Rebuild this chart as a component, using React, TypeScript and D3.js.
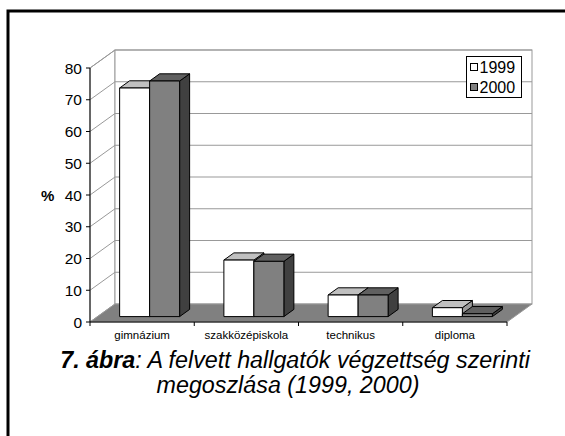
import React from 'react';
import * as d3 from 'd3';

const categories = ['gimnázium', 'szakközépiskola', 'technikus', 'diploma'];
const seriesNames = ['1999', '2000'];
const values1999 = [72, 17.8, 6.8, 2.8];
const values2000 = [74.2, 17.4, 6.8, 0.9];
const yTicks = [0, 10, 20, 30, 40, 50, 60, 70, 80];

const W = 565, H = 436;
const X0 = 90, X1 = 507, Y0 = 322, Y80 = 68;
const DX = 25, DY = 18;
const Z0 = 0.3, Z1 = 0.7;

const colors: Record<string, { front: string; top: string; side: string }> = {
  '1999': { front: '#ffffff', top: '#c0c0c0', side: '#9a9a9a' },
  '2000': { front: '#808080', top: '#606060', side: '#404040' },
};

export default function App() {
  const x = d3.scaleBand<string>().domain(categories).range([X0, X1]).paddingInner(0.4245).paddingOuter(0.21225);
  const xs = d3.scaleBand<string>().domain(seriesNames).range([0, x.bandwidth()]);
  const y = d3.scaleLinear().domain([0, 80]).range([Y0, Y80]);
  const font = 'Arial, "Liberation Sans", sans-serif';

  const bars: React.ReactElement[] = [];
  categories.forEach((c, i) => {
    seriesNames.forEach((s) => {
      const v = s === '1999' ? values1999[i] : values2000[i];
      const xl = (x(c) as number) + (xs(s) as number);
      const xr = xl + xs.bandwidth();
      const yv = y(v);
      const yb = y(0);
      const col = colors[s];
      const p = (px: number, py: number, z: number) => `${px + z * DX},${py - z * DY}`;
      bars.push(
        <g key={c + s} stroke="#000" strokeWidth={1} strokeLinejoin="round">
          <polygon points={[p(xr, yv, Z0), p(xr, yv, Z1), p(xr, yb, Z1), p(xr, yb, Z0)].join(' ')} fill={col.side} />
          <polygon points={[p(xl, yv, Z0), p(xr, yv, Z0), p(xr, yv, Z1), p(xl, yv, Z1)].join(' ')} fill={col.top} />
          <polygon points={[p(xl, yv, Z0), p(xr, yv, Z0), p(xr, yb, Z0), p(xl, yb, Z0)].join(' ')} fill={col.front} />
        </g>
      );
    });
  });

  const xTickPos = [...categories.map((c) => (x(c) as number) - x.step() * x.paddingInner() / 2), X1];

  return (
    <svg width={W} height={H} style={{ position: 'absolute', left: 0, top: 0 }} fontFamily={font}>
      <rect x={0} y={0} width={W} height={H} fill="#fff" />
      <rect x={8} y={11} width={700} height={600} fill="none" stroke="#000" strokeWidth={3} />
      <polygon points={`${X0},${Y0} ${X0},${Y80} ${X0 + DX},${Y80 - DY} ${X0 + DX},${Y0 - DY}`} fill="#fff" stroke="#999" />
      <rect x={X0 + DX} y={Y80 - DY} width={X1 - X0} height={Y0 - Y80} fill="#fff" stroke="#999" />
      {yTicks.filter((t) => t > 0).map((t) => (
        <polyline key={'g' + t} points={`${X0},${y(t)} ${X0 + DX},${y(t) - DY} ${X1 + DX},${y(t) - DY}`} fill="none" stroke="#999" strokeWidth={1} />
      ))}
      <polygon points={`${X0},${Y0} ${X1},${Y0} ${X1 + DX},${Y0 - DY} ${X0 + DX},${Y0 - DY}`} fill="#808080" stroke="#999" />
      <line x1={X0} y1={Y80} x2={X0} y2={Y0} stroke="#000" />
      <line x1={X0} y1={Y0} x2={X1} y2={Y0} stroke="#000" />
      {yTicks.map((t) => (
        <line key={'t' + t} x1={X0 - 4} x2={X0} y1={y(t)} y2={y(t)} stroke="#000" />
      ))}
      {yTicks.map((t) => (
        <text key={'l' + t} x={82} y={y(t) + 5.5} textAnchor="end" fontSize={15.5} fill="#000">{String(t)}</text>
      ))}
      <text x={41} y={y(40) + 5.5} fontSize={15} fontWeight="bold" fill="#000">%</text>
      {xTickPos.map((t, i) => (
        <line key={'x' + i} x1={t} x2={t} y1={Y0} y2={Y0 + 4} stroke="#000" />
      ))}
      {categories.map((c) => (
        <text key={c} x={(x(c) as number) + x.bandwidth() / 2} y={339} textAnchor="middle" fontSize={11.5}>{c}</text>
      ))}
      {bars}
      <rect x={466.5} y={56.5} width={55} height={41} fill="#fff" stroke="#000" strokeWidth={1} />
      {seriesNames.map((s, i) => (
        <g key={s}>
          <rect x={470.5} y={63.5 + i * 20} width={7} height={7} fill={colors[s].front} stroke="#000" />
          <text x={479.5} y={72.5 + i * 20} fontSize={16}>{s}</text>
        </g>
      ))}
      <text x={295} y={368} textAnchor="middle" fontSize={23.3} fontStyle="italic">
        <tspan fontWeight="bold">7. ábra</tspan>: A felvett hallgatók végzettség szerinti
      </text>
      <text x={288} y={393} textAnchor="middle" fontSize={23.3} fontStyle="italic">megoszlása (1999, 2000)</text>
    </svg>
  );
}
